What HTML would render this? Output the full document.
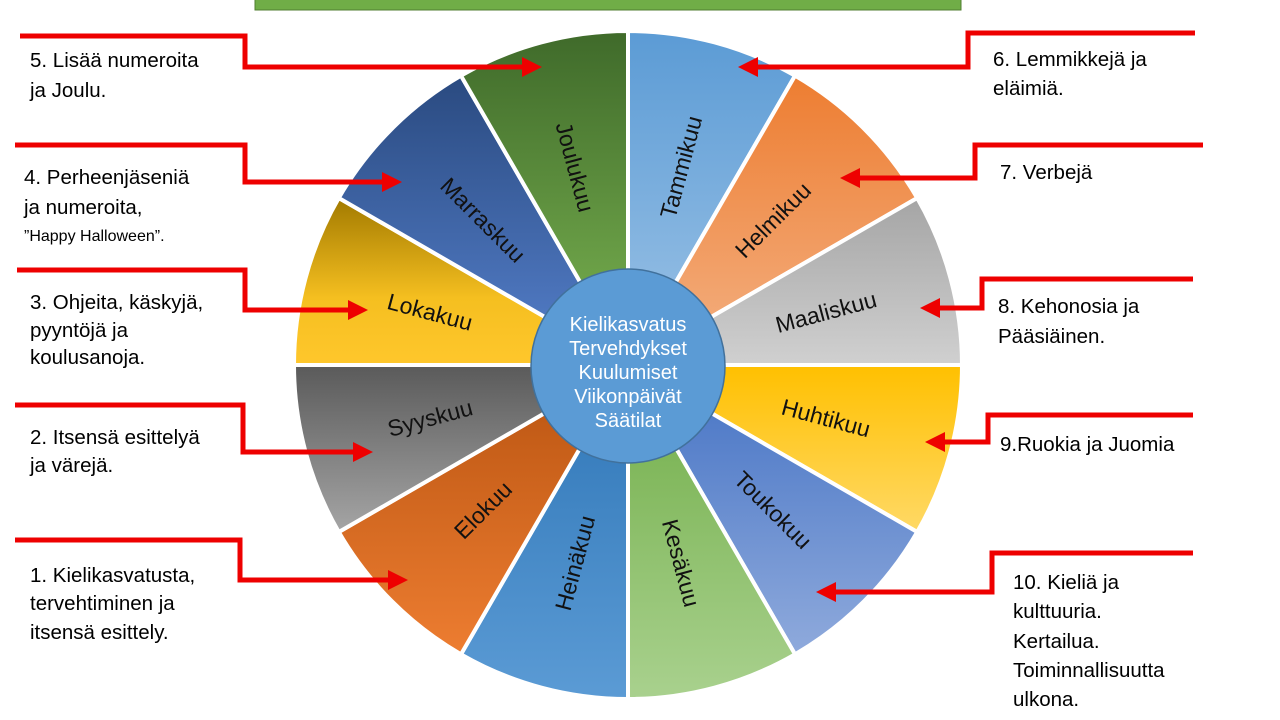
<!DOCTYPE html>
<html><head><meta charset="utf-8"><style>
html,body{margin:0;padding:0;background:#fff;width:1280px;height:720px;overflow:hidden}
svg{display:block}
.t{font-family:"Liberation Sans",sans-serif;font-size:20.5px;fill:#000}
.m{font-family:"Liberation Sans",sans-serif;font-size:23px;fill:#111;text-anchor:middle;dominant-baseline:central}
.c{font-family:"Liberation Sans",sans-serif;font-size:20px;fill:#fff;text-anchor:middle}
</style></head><body>
<svg width="1280" height="720" viewBox="0 0 1280 720" xmlns="http://www.w3.org/2000/svg">
<defs>
<linearGradient id="g1" x1="0" y1="0" x2="0" y2="1"><stop offset="0" stop-color="#5b9bd5"/><stop offset="1" stop-color="#9dc3e6"/></linearGradient>
<linearGradient id="g2" x1="0" y1="0" x2="0" y2="1"><stop offset="0" stop-color="#ed7d31"/><stop offset="1" stop-color="#f4b183"/></linearGradient>
<linearGradient id="g3" x1="0" y1="0" x2="0" y2="1"><stop offset="0" stop-color="#a5a5a5"/><stop offset="1" stop-color="#d0d0d0"/></linearGradient>
<linearGradient id="g4" x1="0" y1="0" x2="0" y2="1"><stop offset="0" stop-color="#ffc000"/><stop offset="1" stop-color="#ffd966"/></linearGradient>
<linearGradient id="g5" x1="0" y1="0" x2="0" y2="1"><stop offset="0" stop-color="#4472c4"/><stop offset="1" stop-color="#8faadc"/></linearGradient>
<linearGradient id="g6" x1="0" y1="0" x2="0" y2="1"><stop offset="0" stop-color="#70ad47"/><stop offset="1" stop-color="#a9d18e"/></linearGradient>
<linearGradient id="g7" x1="0" y1="0" x2="0" y2="1"><stop offset="0" stop-color="#2e75b6"/><stop offset="1" stop-color="#5b9bd5"/></linearGradient>
<linearGradient id="g8" x1="0" y1="0" x2="0" y2="1"><stop offset="0" stop-color="#b85310"/><stop offset="1" stop-color="#ed7d31"/></linearGradient>
<linearGradient id="g9" x1="0" y1="0" x2="0" y2="1"><stop offset="0" stop-color="#5a5a5a"/><stop offset="1" stop-color="#a5a5a5"/></linearGradient>
<linearGradient id="g10" x1="0" y1="0" x2="0" y2="1"><stop offset="0" stop-color="#a27a00"/><stop offset="0.6" stop-color="#f5bf20"/><stop offset="1" stop-color="#ffc72c"/></linearGradient>
<linearGradient id="g11" x1="0" y1="0" x2="0" y2="1"><stop offset="0" stop-color="#2a4a80"/><stop offset="1" stop-color="#5580cc"/></linearGradient>
<linearGradient id="g12" x1="0" y1="0" x2="0" y2="1"><stop offset="0" stop-color="#3f6a2a"/><stop offset="1" stop-color="#7cb552"/></linearGradient>
<marker id="ah" markerWidth="4" markerHeight="4" refX="1" refY="2" orient="auto" markerUnits="strokeWidth"><path d="M0,0 L4,2 L0,4 Z" fill="#e00"/></marker>
</defs>
<rect x="255" y="-2" width="706" height="12" fill="#70ad47" stroke="#507e32" stroke-width="1"/>
<g stroke="#fff" stroke-width="4" stroke-linejoin="round">
<path d="M628,365 L628,31 A334,334 0 0 1 795,75.7 Z" fill="url(#g1)"/>
<path d="M628,365 L795,75.7 A334,334 0 0 1 917.2,198 Z" fill="url(#g2)"/>
<path d="M628,365 L917.2,198 A334,334 0 0 1 962,365 Z" fill="url(#g3)"/>
<path d="M628,365 L962,365 A334,334 0 0 1 917.2,532 Z" fill="url(#g4)"/>
<path d="M628,365 L917.2,532 A334,334 0 0 1 795,654.3 Z" fill="url(#g5)"/>
<path d="M628,365 L795,654.3 A334,334 0 0 1 628,699 Z" fill="url(#g6)"/>
<path d="M628,365 L628,699 A334,334 0 0 1 461,654.3 Z" fill="url(#g7)"/>
<path d="M628,365 L461,654.3 A334,334 0 0 1 338.8,532 Z" fill="url(#g8)"/>
<path d="M628,365 L338.8,532 A334,334 0 0 1 294,365 Z" fill="url(#g9)"/>
<path d="M628,365 L294,365 A334,334 0 0 1 338.8,198 Z" fill="url(#g10)"/>
<path d="M628,365 L338.8,198 A334,334 0 0 1 461,75.7 Z" fill="url(#g11)"/>
<path d="M628,365 L461,75.7 A334,334 0 0 1 628,31 Z" fill="url(#g12)"/>
</g>
<text class="m" transform="translate(681,167) rotate(-75)">Tammikuu</text>
<text class="m" transform="translate(773,220) rotate(-45)">Helmikuu</text>
<text class="m" transform="translate(826,312) rotate(-15)">Maaliskuu</text>
<text class="m" transform="translate(826,418) rotate(15)">Huhtikuu</text>
<text class="m" transform="translate(773,510) rotate(45)">Toukokuu</text>
<text class="m" transform="translate(681,563) rotate(75)">Kesäkuu</text>
<text class="m" transform="translate(575,563) rotate(-75)">Heinäkuu</text>
<text class="m" transform="translate(483,510) rotate(-45)">Elokuu</text>
<text class="m" transform="translate(430,418) rotate(-15)">Syyskuu</text>
<text class="m" transform="translate(430,312) rotate(15)">Lokakuu</text>
<text class="m" transform="translate(483,220) rotate(45)">Marraskuu</text>
<text class="m" transform="translate(575,167) rotate(75)">Joulukuu</text>
<circle cx="628" cy="366" r="97" fill="#5b9bd5" stroke="#41719c" stroke-width="1.5"/>
<text class="c" x="628" y="331">Kielikasvatus</text>
<text class="c" x="628" y="355">Tervehdykset</text>
<text class="c" x="628" y="379">Kuulumiset</text>
<text class="c" x="628" y="403">Viikonpäivät</text>
<text class="c" x="628" y="427">Säätilat</text>
<g fill="none" stroke="#e00" stroke-width="5" marker-end="url(#ah)">
<polyline points="20,36 245,36 245,67 527,67"/>
<polyline points="15,145 245,145 245,182 387,182"/>
<polyline points="17,270 245,270 245,310 353,310"/>
<polyline points="15,405 243,405 243,452 358,452"/>
<polyline points="15,540 240,540 240,580 393,580"/>
<polyline points="1195,33 968,33 968,67 753,67"/>
<polyline points="1203,145 975,145 975,178 855,178"/>
<polyline points="1193,279 982,279 982,308 935,308"/>
<polyline points="1193,415 988,415 988,442 940,442"/>
<polyline points="1193,553 992,553 992,592 831,592"/>
</g>
<g class="t">
<text x="30" y="67">5.  Lisää numeroita</text>
<text x="30" y="97">ja Joulu.</text>
<text x="24" y="184">4. Perheenjäseniä</text>
<text x="24" y="214">ja numeroita,</text>
<text x="24" y="241" style="font-size:16px">”Happy Halloween”.</text>
<text x="30" y="309">3. Ohjeita, käskyjä,</text>
<text x="30" y="337">pyyntöjä ja</text>
<text x="30" y="364">koulusanoja.</text>
<text x="30" y="444">2. Itsensä esittelyä</text>
<text x="30" y="472">ja värejä.</text>
<text x="30" y="582">1. Kielikasvatusta,</text>
<text x="30" y="610">tervehtiminen ja</text>
<text x="30" y="639">itsensä esittely.</text>
<text x="993" y="66">6. Lemmikkejä ja</text>
<text x="993" y="95">eläimiä.</text>
<text x="1000" y="179">7. Verbejä</text>
<text x="998" y="313">8. Kehonosia ja</text>
<text x="998" y="343">Pääsiäinen.</text>
<text x="1000" y="451">9.Ruokia ja Juomia</text>
<text x="1013" y="589">10. Kieliä ja</text>
<text x="1013" y="618">kulttuuria.</text>
<text x="1013" y="648">Kertailua.</text>
<text x="1013" y="677">Toiminnallisuutta</text>
<text x="1013" y="706">ulkona.</text>
</g>
</svg>
</body></html>
